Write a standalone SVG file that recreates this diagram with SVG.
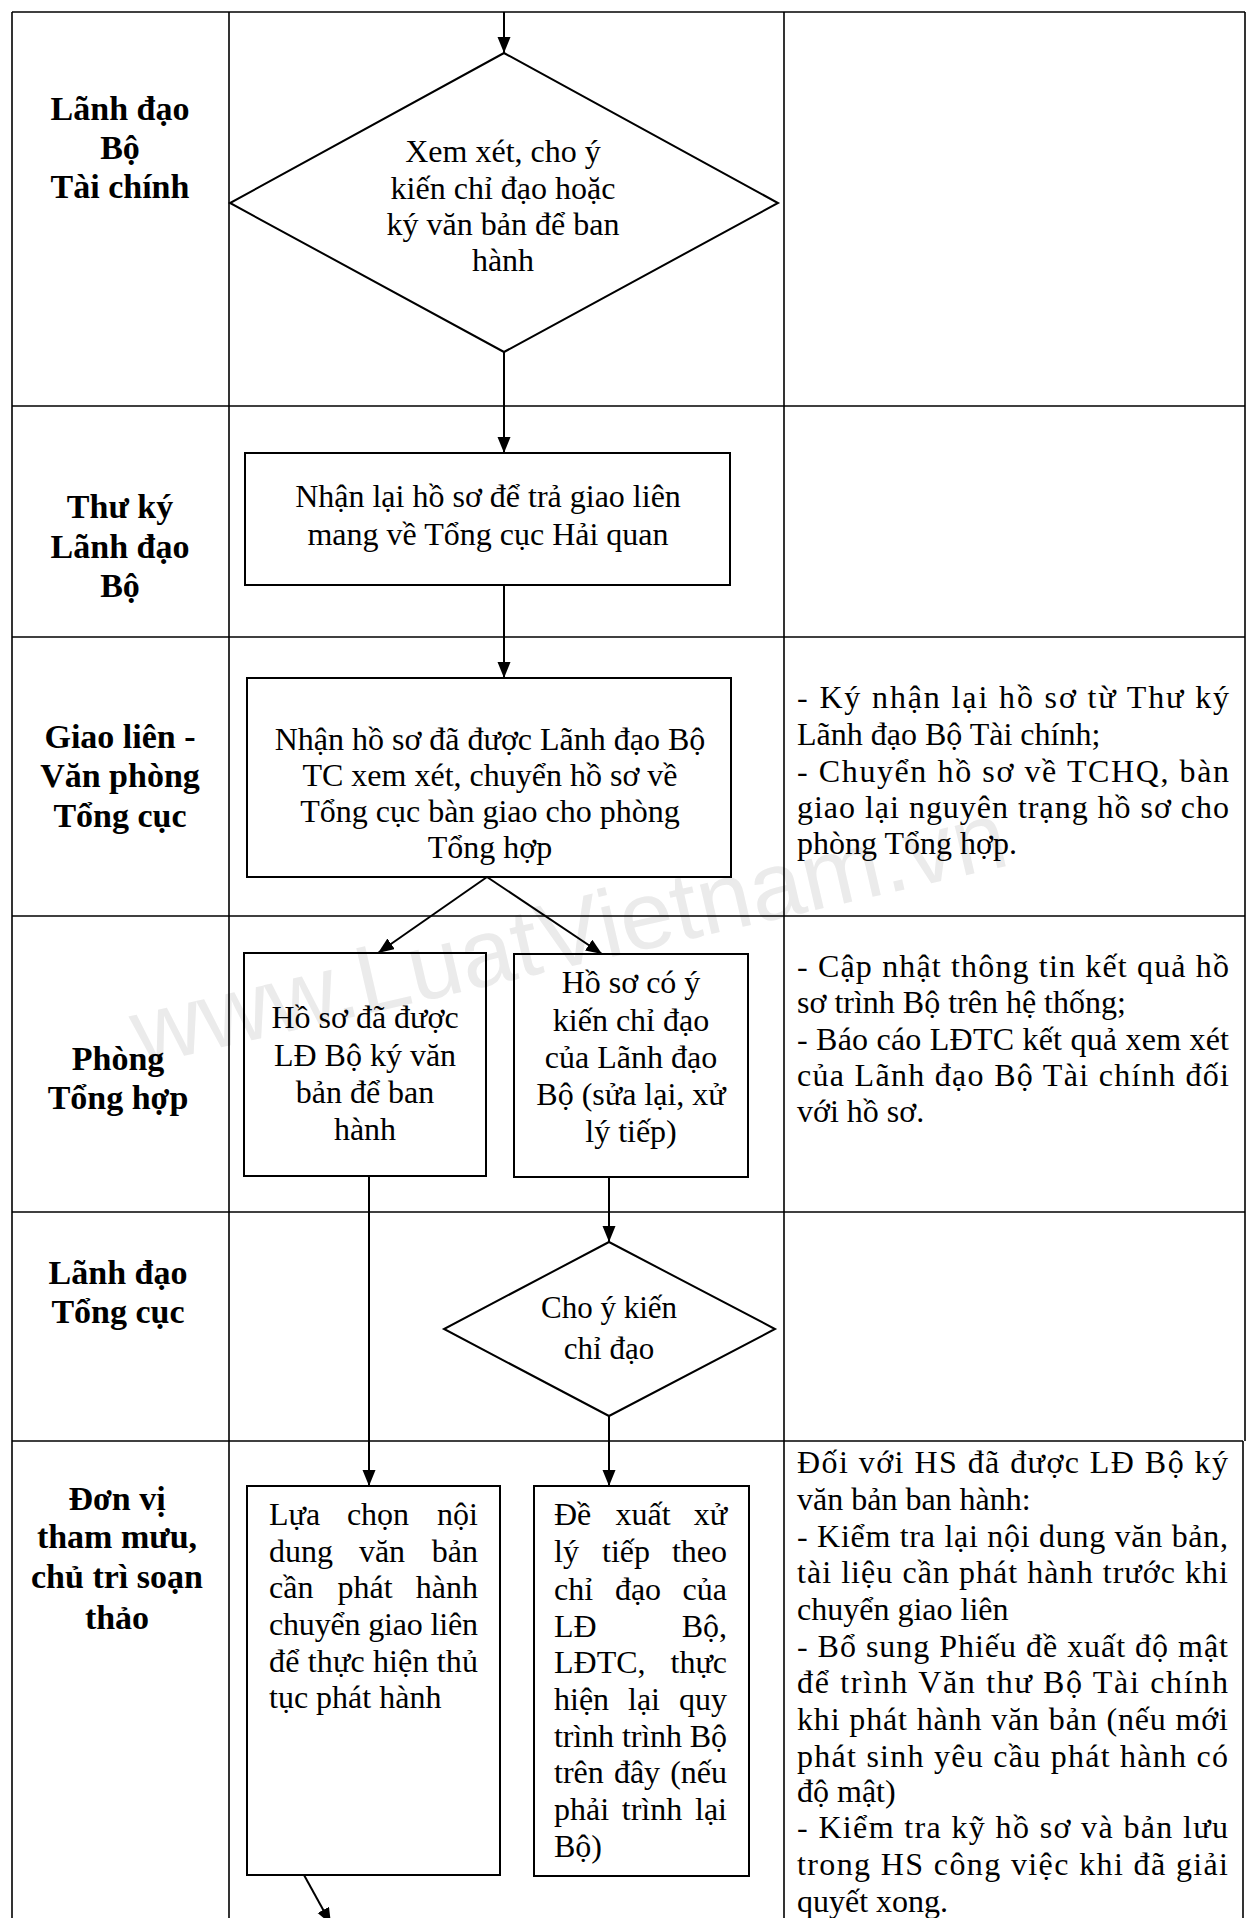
<svg xmlns="http://www.w3.org/2000/svg" width="1250" height="1918" viewBox="0 0 1250 1918">
<style>
.ln{stroke:#000;stroke-width:1.6;fill:none}
.bx{stroke:#000;stroke-width:2;fill:none}
.cn{stroke:#000;stroke-width:2;fill:none;marker-end:url(#ah)}
.lb{font-family:"Liberation Serif","Times New Roman",serif;font-weight:bold;font-size:34px;text-anchor:middle;fill:#000}
.tx{font-family:"Liberation Serif","Times New Roman",serif;font-size:32px;text-anchor:middle;fill:#000}
.dt{font-family:"Liberation Serif","Times New Roman",serif;font-size:32px;text-anchor:middle;fill:#000}
.d2{font-family:"Liberation Serif","Times New Roman",serif;font-size:31px;text-anchor:middle;fill:#000}
.jt{font-family:"Liberation Serif","Times New Roman",serif;font-size:32px;fill:#000}
.m{text-anchor:middle}
.e{text-anchor:end}
.wm{font-family:"Liberation Sans",Arial,sans-serif;font-size:96px;fill:#ebebeb}
</style>
<defs>
<marker id="ah" markerUnits="userSpaceOnUse" markerWidth="18" markerHeight="14" refX="16" refY="6.5" orient="auto">
<path d="M0,0 L16,6.5 L0,13 z" fill="#000"/>
</marker>
</defs>
<rect width="1250" height="1918" fill="#fff"/>
<text class="wm" transform="translate(140,1066) rotate(-13)">www.LuatVietnam.vn</text>

<g id="table">
<line class="ln" x1="12" y1="12" x2="1245" y2="12"/>
<line class="ln" x1="12" y1="406" x2="1245" y2="406"/>
<line class="ln" x1="12" y1="637" x2="1245" y2="637"/>
<line class="ln" x1="12" y1="916" x2="1245" y2="916"/>
<line class="ln" x1="12" y1="1212" x2="1245" y2="1212"/>
<line class="ln" x1="12" y1="1441" x2="1243" y2="1441"/>
<line class="ln" x1="12" y1="12" x2="12" y2="1918"/>
<line class="ln" x1="229" y1="12" x2="229" y2="1918"/>
<line class="ln" x1="784" y1="12" x2="784" y2="1918"/>
<line class="ln" x1="1245" y1="12" x2="1245" y2="1441"/>
<line class="ln" x1="1243" y1="1441" x2="1243" y2="1918"/>
</g>

<g id="lane-labels">
<text class="lb" x="120" y="120">Lãnh đạo</text>
<text class="lb" x="120" y="159">Bộ</text>
<text class="lb" x="120" y="198">Tài chính</text>
<text class="lb" x="120" y="518">Thư ký</text>
<text class="lb" x="120" y="558">Lãnh đạo</text>
<text class="lb" x="120" y="597">Bộ</text>
<text class="lb" x="120" y="748">Giao liên -</text>
<text class="lb" x="120" y="787">Văn phòng</text>
<text class="lb" x="120" y="827">Tổng cục</text>
<text class="lb" x="118" y="1070">Phòng</text>
<text class="lb" x="118" y="1109">Tổng hợp</text>
<text class="lb" x="118" y="1284">Lãnh đạo</text>
<text class="lb" x="118" y="1323">Tổng cục</text>
<text class="lb" x="117" y="1510">Đơn vị</text>
<text class="lb" x="117" y="1548">tham mưu,</text>
<text class="lb" x="117" y="1588">chủ trì soạn</text>
<text class="lb" x="117" y="1629">thảo</text>
</g>

<g id="connectors">
<line class="cn" x1="504" y1="12" x2="504" y2="53"/>
<line class="cn" x1="504" y1="352" x2="504" y2="453"/>
<line class="cn" x1="504" y1="585" x2="504" y2="678"/>
<line class="cn" x1="487" y1="877" x2="378" y2="953"/>
<line class="cn" x1="487" y1="877" x2="602" y2="954"/>
<line class="cn" x1="369" y1="1176" x2="369" y2="1486"/>
<line class="cn" x1="609" y1="1177" x2="609" y2="1242"/>
<line class="cn" x1="609" y1="1416" x2="609" y2="1486"/>
<line class="cn" x1="304" y1="1875" x2="331" y2="1924"/>
</g>

<g id="n-xemxet">
<polygon class="bx" points="504,53 778,203 504,352 230,203"/>
<text class="dt" x="503" y="162">Xem xét, cho ý</text>
<text class="dt" x="503" y="199">kiến chỉ đạo hoặc</text>
<text class="dt" x="503" y="235">ký văn bản để ban</text>
<text class="dt" x="503" y="271">hành</text>
</g>

<g id="n-nhanlai">
<rect class="bx" x="245" y="453" width="485" height="132"/>
<text class="tx" x="488" y="507">Nhận lại hồ sơ để trả giao liên</text>
<text class="tx" x="488" y="545">mang về Tổng cục Hải quan</text>
</g>

<g id="n-nhanhoso">
<rect class="bx" x="247" y="678" width="484" height="199"/>
<text class="tx" x="490" y="750">Nhận hồ sơ đã được Lãnh đạo Bộ</text>
<text class="tx" x="490" y="786">TC xem xét, chuyển hồ sơ về</text>
<text class="tx" x="490" y="822">Tổng cục bàn giao cho phòng</text>
<text class="tx" x="490" y="858">Tổng hợp</text>
</g>

<g id="n-note-giaolien">
<text class="jt" x="797" y="708" textLength="432" lengthAdjust="spacing">- Ký nhận lại hồ sơ từ Thư ký</text>
<text class="jt" x="797" y="745">Lãnh đạo Bộ Tài chính;</text>
<text class="jt" x="797" y="782" textLength="432" lengthAdjust="spacing">- Chuyển hồ sơ về TCHQ, bàn</text>
<text class="jt" x="797" y="818" textLength="432" lengthAdjust="spacing">giao lại nguyên trạng hồ sơ cho</text>
<text class="jt" x="797" y="854">phòng Tổng hợp.</text>
</g>

<g id="n-dakyvanban">
<rect class="bx" x="244" y="953" width="242" height="223"/>
<text class="tx" x="365" y="1028">Hồ sơ đã được</text>
<text class="tx" x="365" y="1066">LĐ Bộ ký văn</text>
<text class="tx" x="365" y="1103">bản để ban</text>
<text class="tx" x="365" y="1140">hành</text>
</g>

<g id="n-cochidao">
<rect class="bx" x="514" y="954" width="234" height="223"/>
<text class="tx" x="631" y="993">Hồ sơ có ý</text>
<text class="tx" x="631" y="1031">kiến chỉ đạo</text>
<text class="tx" x="631" y="1068">của Lãnh đạo</text>
<text class="tx" x="631" y="1105">Bộ (sửa lại, xử</text>
<text class="tx" x="631" y="1142">lý tiếp)</text>
</g>

<g id="n-note-tonghop">
<text class="jt" x="797" y="977" textLength="432" lengthAdjust="spacing">- Cập nhật thông tin kết quả hồ</text>
<text class="jt" x="797" y="1013">sơ trình Bộ trên hệ thống;</text>
<text class="jt" x="797" y="1050" textLength="432" lengthAdjust="spacing">- Báo cáo LĐTC kết quả xem xét</text>
<text class="jt" x="797" y="1086" textLength="432" lengthAdjust="spacing">của Lãnh đạo Bộ Tài chính đối</text>
<text class="jt" x="797" y="1122">với hồ sơ.</text>
</g>

<g id="n-choykien">
<polygon class="bx" points="609,1242 775,1329 609,1416 444,1329"/>
<text class="d2" x="609" y="1318">Cho ý kiến</text>
<text class="d2" x="609" y="1359">chỉ đạo</text>
</g>

<g id="n-luachon">
<rect class="bx" x="247" y="1486" width="253" height="389"/>
<text class="jt" x="269" y="1525">Lựa</text><text class="jt m" x="378" y="1525">chọn</text><text class="jt e" x="478" y="1525">nội</text>
<text class="jt" x="269" y="1562">dung</text><text class="jt m" x="382" y="1562">văn</text><text class="jt e" x="478" y="1562">bản</text>
<text class="jt" x="269" y="1598">cần</text><text class="jt m" x="365" y="1598">phát</text><text class="jt e" x="478" y="1598">hành</text>
<text class="jt" x="269" y="1635" textLength="209" lengthAdjust="spacing">chuyển giao liên</text>
<text class="jt" x="269" y="1672" textLength="209" lengthAdjust="spacing">để thực hiện thủ</text>
<text class="jt" x="269" y="1708">tục phát hành</text>
</g>

<g id="n-dexuat">
<rect class="bx" x="534" y="1486" width="215" height="390"/>
<text class="jt" x="554" y="1525">Đề</text><text class="jt m" x="643" y="1525">xuất</text><text class="jt e" x="727" y="1525">xử</text>
<text class="jt" x="554" y="1562">lý</text><text class="jt m" x="626" y="1562">tiếp</text><text class="jt e" x="727" y="1562">theo</text>
<text class="jt" x="554" y="1600">chỉ</text><text class="jt m" x="638" y="1600">đạo</text><text class="jt e" x="727" y="1600">của</text>
<text class="jt" x="554" y="1637">LĐ</text><text class="jt e" x="727" y="1637">Bộ,</text>
<text class="jt" x="554" y="1673">LĐTC,</text><text class="jt e" x="727" y="1673">thực</text>
<text class="jt" x="554" y="1710">hiện</text><text class="jt m" x="644" y="1710">lại</text><text class="jt e" x="727" y="1710">quy</text>
<text class="jt" x="554" y="1747" textLength="173" lengthAdjust="spacing">trình trình Bộ</text>
<text class="jt" x="554" y="1783">trên</text><text class="jt m" x="637" y="1783">đây</text><text class="jt e" x="727" y="1783">(nếu</text>
<text class="jt" x="554" y="1820">phải</text><text class="jt m" x="652" y="1820">trình</text><text class="jt e" x="727" y="1820">lại</text>
<text class="jt" x="554" y="1857">Bộ)</text>
</g>

<g id="n-note-donvi">
<text class="jt" x="797" y="1473" textLength="431" lengthAdjust="spacing">Đối với HS đã được LĐ Bộ ký</text>
<text class="jt" x="797" y="1510">văn bản ban hành:</text>
<text class="jt" x="797" y="1547" textLength="431" lengthAdjust="spacing">- Kiểm tra lại nội dung văn bản,</text>
<text class="jt" x="797" y="1583" textLength="431" lengthAdjust="spacing">tài liệu cần phát hành trước khi</text>
<text class="jt" x="797" y="1620">chuyển giao liên</text>
<text class="jt" x="797" y="1657" textLength="431" lengthAdjust="spacing">- Bổ sung Phiếu đề xuất độ mật</text>
<text class="jt" x="797" y="1693" textLength="431" lengthAdjust="spacing">để trình Văn thư Bộ Tài chính</text>
<text class="jt" x="797" y="1730" textLength="431" lengthAdjust="spacing">khi phát hành văn bản (nếu mới</text>
<text class="jt" x="797" y="1767" textLength="431" lengthAdjust="spacing">phát sinh yêu cầu phát hành có</text>
<text class="jt" x="797" y="1802">độ mật)</text>
<text class="jt" x="797" y="1838" textLength="431" lengthAdjust="spacing">- Kiểm tra kỹ hồ sơ và bản lưu</text>
<text class="jt" x="797" y="1875" textLength="431" lengthAdjust="spacing">trong HS công việc khi đã giải</text>
<text class="jt" x="797" y="1912">quyết xong.</text>
</g>
</svg>
